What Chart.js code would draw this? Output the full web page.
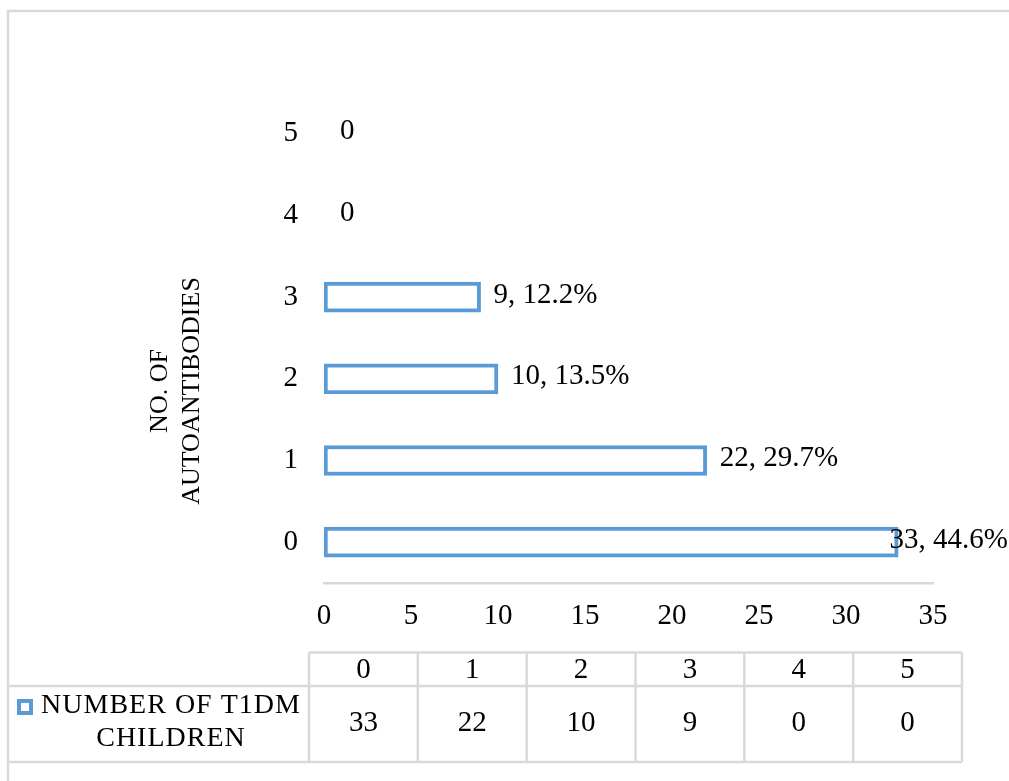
<!DOCTYPE html>
<html>
<head>
<meta charset="utf-8">
<title>Autoantibodies in T1DM children</title>
<script src="https://cdn.jsdelivr.net/npm/chart.js@4"></script>
<style>
  html, body { margin: 0; padding: 0; background: #fff; }
  canvas { display: block; }
</style>
</head>
<body>
<canvas id="antibodyChart" width="1009" height="781"></canvas>
<script>
// number of autoantibodies per child
const categories = ["0", "1", "2", "3", "4", "5"];
const childCounts = [33, 22, 10, 9, 0, 0];
const childPercents = [44.6, 29.7, 13.5, 12.2, 0, 0];
const seriesNameLines = ["NUMBER OF T1DM", "CHILDREN"];
const axisTitleLines = ["NO. OF", "AUTOANTIBODIES"];

const SERIF = "'Liberation Serif', 'Times New Roman', serif";
const BLUE = "#5b9bd5";
const LINE_GREY = "#d9d9d9";

// value labels to the right of each bar, kept inside the canvas
const barLabels = {
  id: "barLabels",
  afterDatasetsDraw(chart) {
    const ctx = chart.ctx;
    const meta = chart.getDatasetMeta(0);
    ctx.save();
    ctx.font = "29px " + SERIF;
    ctx.fillStyle = "#000";
    ctx.textBaseline = "middle";
    ctx.textAlign = "left";
    meta.data.forEach((bar, i) => {
      const count = childCounts[i];
      const text = count === 0 ? "0" : count + ", " + childPercents[i].toFixed(1) + "%";
      const w = ctx.measureText(text).width;
      let x = bar.x + (count === 0 ? 16 : 13);
      if (x + w > chart.width - 1) x = chart.width - 1 - w;
      ctx.fillText(text, x, bar.y - 2);
    });
    ctx.restore();
  }
};

// frame, rotated axis title and the data table under the plot
const frameAndTable = {
  id: "frameAndTable",
  afterDraw(chart) {
    const ctx = chart.ctx;
    ctx.save();

    // outer frame (left and top edges only are on screen)
    ctx.strokeStyle = LINE_GREY;
    ctx.lineWidth = 2.5;
    ctx.beginPath();
    ctx.moveTo(8, chart.height);
    ctx.lineTo(8, 11);
    ctx.lineTo(chart.width, 11);
    ctx.stroke();

    // y axis title, two lines
    ctx.fillStyle = "#000";
    ctx.font = "26px " + SERIF;
    ctx.textAlign = "center";
    ctx.textBaseline = "middle";
    ctx.save();
    ctx.translate(176, 391);
    ctx.rotate(-Math.PI / 2);
    ctx.fillText(axisTitleLines[0], 0, -16);
    ctx.fillText(axisTitleLines[1], 0, 16);
    ctx.restore();

    // data table
    const tableLeft = 309, tableRight = 962;
    const rowTop = 652.5, rowMid = 686, rowBottom = 762;
    const colW = (tableRight - tableLeft) / categories.length;

    ctx.strokeStyle = LINE_GREY;
    ctx.lineWidth = 2.5;
    ctx.beginPath();
    ctx.moveTo(tableLeft, rowTop);
    ctx.lineTo(tableRight, rowTop);
    ctx.moveTo(8, rowMid);
    ctx.lineTo(tableRight, rowMid);
    ctx.moveTo(8, rowBottom);
    ctx.lineTo(tableRight, rowBottom);
    for (let i = 0; i <= categories.length; i++) {
      const x = tableLeft + i * colW;
      ctx.moveTo(x, rowTop);
      ctx.lineTo(x, rowBottom);
    }
    ctx.stroke();

    ctx.font = "29px " + SERIF;
    ctx.fillStyle = "#000";
    categories.forEach((cat, i) => {
      const cx = tableLeft + (i + 0.5) * colW;
      ctx.fillText(cat, cx, (rowTop + rowMid) / 2 + 1);
      ctx.fillText(String(childCounts[i]), cx, (rowMid + rowBottom) / 2 - 1);
    });

    // series key in the first column
    ctx.strokeStyle = BLUE;
    ctx.lineWidth = 4;
    ctx.strokeRect(19, 701, 12, 12);
    ctx.font = "28px " + SERIF;
    if ("letterSpacing" in ctx) ctx.letterSpacing = "1px";
    ctx.fillText(seriesNameLines[0], 171, 706);
    ctx.fillText(seriesNameLines[1], 171, 739);

    ctx.restore();
  }
};

const ctx = document.getElementById("antibodyChart").getContext("2d");

new Chart(ctx, {
  type: "bar",
  data: {
    labels: categories,
    datasets: [
      {
        label: seriesNameLines.join(" "),
        data: childCounts,
        backgroundColor: "#ffffff",
        borderColor: BLUE,
        borderWidth: 4,
        borderSkipped: false,
        barThickness: 30,
      },
    ],
  },
  options: {
    indexAxis: "y",
    responsive: false,
    animation: false,
    layout: {
      padding: { top: 93, right: 76, bottom: 148, left: 0 },
    },
    scales: {
      x: {
        type: "linear",
        min: 0,
        max: 35,
        ticks: {
          stepSize: 5,
          color: "#000",
          padding: 16,
          maxRotation: 0,
          font: { family: SERIF, size: 29 },
        },
        grid: { display: false, drawTicks: false },
        border: { display: true, color: LINE_GREY, width: 2.5 },
        afterFit(scale) {
          scale.height = 50;
        },
      },
      y: {
        reverse: true,
        ticks: {
          color: "#000",
          padding: 26,
          font: { family: SERIF, size: 29 },
        },
        grid: { display: false, drawTicks: false },
        border: { display: false },
        afterFit(scale) {
          scale.width = 324;
        },
      },
    },
    plugins: {
      legend: { display: false },
      tooltip: { enabled: false },
      title: { display: false },
    },
  },
  plugins: [barLabels, frameAndTable],
});
</script>
</body>
</html>
